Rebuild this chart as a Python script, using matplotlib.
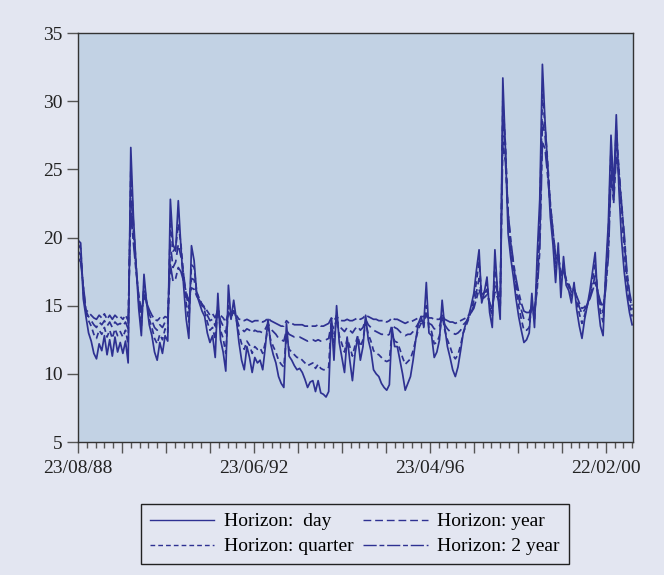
import numpy as np
import matplotlib
matplotlib.use("Agg")
import matplotlib.pyplot as plt
from matplotlib.ticker import MultipleLocator, FixedLocator

# Weekly observations (Tuesdays) starting 23/08/88, sampled every third week
weeks = np.arange(0, 631, 3)

tick_weeks = [0, 200, 400, 600]
tick_labels = ["23/08/88", "23/06/92", "23/04/96", "22/02/00"]

series_names = ["Horizon:  day", "Horizon: quarter", "Horizon: year", "Horizon: 2 year"]

# Volatility forecasts (% p.a.)
vol_day = [
    19.8, 19.6, 15.5, 14.2, 13.0, 12.4, 11.5, 11.1, 12.2, 11.7,
    12.8, 11.4, 12.5, 11.3, 12.7, 11.6, 12.3, 11.5, 12.4, 10.8,
    26.6, 21.5, 18.0, 14.8, 12.8, 17.3, 15.2, 13.6, 12.8, 11.6,
    11.0, 12.3, 11.5, 12.8, 12.4, 22.8, 19.5, 19.0, 22.7, 19.3,
    16.5, 14.0, 12.6, 19.4, 18.3, 15.8, 15.2, 14.6, 14.2, 13.0,
    12.3, 12.8, 11.2, 15.9, 12.5, 11.6, 10.2, 16.5, 14.0, 15.4,
    14.0, 12.3, 11.0, 10.3, 12.0, 11.2, 10.1, 11.2, 10.8, 11.0,
    10.3, 12.0, 14.0, 12.2, 11.4, 10.8, 9.8, 9.3, 9.0, 13.7,
    11.3, 11.0, 10.6, 10.3, 10.4, 10.1, 9.6, 9.0, 9.4, 9.5,
    8.7, 9.5, 8.6, 8.5, 8.3, 8.7, 14.0, 11.0, 15.0, 12.3,
    11.2, 10.1, 12.7, 11.0, 9.5, 11.5, 12.7, 11.0, 12.0, 14.3,
    12.5, 11.7, 10.3, 10.0, 9.8, 9.3, 9.0, 8.8, 9.2, 13.4,
    12.0, 12.0, 11.0, 10.0, 8.8, 9.3, 9.8, 11.0, 12.5, 13.7,
    14.2, 13.5, 16.7, 13.0, 12.8, 11.2, 11.6, 12.5, 15.4, 13.4,
    12.0, 11.2, 10.3, 9.8, 10.5, 11.7, 13.0, 13.7, 14.2, 15.0,
    15.9, 17.6, 19.1, 15.2, 16.0, 17.1, 14.5, 13.4, 19.1, 16.0,
    14.0, 31.7, 26.4, 20.3, 18.5, 17.1, 15.5, 14.2, 13.2, 12.3,
    12.5, 13.0, 15.9, 13.4, 18.6, 22.8, 32.7, 28.5, 25.2, 21.5,
    19.5, 16.7, 19.6, 15.6, 18.6, 16.5, 16.1, 15.2, 16.7, 14.7,
    13.5, 12.6, 14.0, 15.0, 16.1, 17.5, 18.9, 15.2, 13.5, 12.8,
    17.6, 21.1, 27.5, 23.5, 29.0, 23.5, 19.8, 17.5, 15.8, 14.5,
    13.6,
]

vol_quarter = [
    19.5, 19.2, 16.0, 14.6, 13.9, 13.5, 12.9, 12.6, 13.2, 12.9,
    13.4, 12.7, 13.2, 12.6, 13.3, 12.8, 13.1, 12.7, 13.2, 12.2,
    25.0, 21.0, 18.0, 15.3, 13.5, 16.6, 15.3, 14.0, 13.4, 12.6,
    12.2, 12.9, 12.5, 13.3, 13.0, 21.0, 19.0, 19.2, 21.0, 19.5,
    17.3, 15.2, 13.8, 18.0, 17.8, 16.0, 15.5, 15.0, 14.6, 13.8,
    13.2, 13.4, 12.5, 15.0, 13.2, 12.6, 11.5, 15.0, 14.0, 14.8,
    14.0, 12.9, 12.2, 11.8, 12.4, 12.1, 11.5, 12.0, 11.8, 11.9,
    11.5, 12.3, 13.4, 12.5, 12.0, 11.6, 11.0, 10.7, 10.5, 12.8,
    11.8, 11.6, 11.4, 11.2, 11.2, 11.0, 10.8, 10.6, 10.7, 10.8,
    10.4, 10.7, 10.4, 10.3, 10.3, 10.5, 14.0, 12.3, 14.3, 12.8,
    12.2, 11.6, 12.6, 12.0, 11.3, 12.1, 12.8, 12.0, 12.5, 13.8,
    12.9, 12.4, 11.7, 11.5, 11.4, 11.2, 11.0, 10.9, 11.0, 13.0,
    12.4, 12.3, 11.8, 11.2, 10.7, 10.9, 11.1, 11.7, 12.5, 13.3,
    13.7, 13.4, 15.0, 13.3, 13.1, 12.2, 12.3, 12.8, 14.3, 13.2,
    12.5, 12.0, 11.4, 11.1, 11.4, 12.1, 13.0, 13.5, 14.0, 14.6,
    15.4, 16.8, 18.2, 15.8, 16.0, 16.7, 15.0, 14.2, 18.0, 16.2,
    14.8, 30.0, 26.8, 21.5, 19.2, 17.6, 16.2, 15.0, 14.0, 13.2,
    13.2, 13.4, 15.2, 13.9, 17.5, 21.5, 30.5, 28.2, 25.5, 22.5,
    20.2, 17.8, 19.0, 16.6, 18.0, 16.8, 16.4, 15.7, 16.4, 15.3,
    14.4, 13.7, 14.3, 15.0, 15.8, 16.9, 18.0, 15.9, 14.5, 13.8,
    17.0, 20.3, 26.5, 23.5, 28.0, 25.0, 21.8, 19.2, 16.5, 15.2,
    14.2,
]

vol_year = [
    19.0, 18.7, 16.3, 14.6, 14.2, 13.9, 13.6, 13.4, 13.8, 13.6,
    13.9, 13.5, 13.8, 13.4, 13.8, 13.6, 13.7, 13.5, 13.8, 13.3,
    23.5, 20.3, 17.8, 15.6, 14.1, 16.0, 15.2, 14.4, 13.9, 13.4,
    13.2, 13.6, 13.4, 13.8, 13.6, 19.5, 17.8, 18.2, 19.5, 18.6,
    17.3, 15.8, 14.8, 17.0, 16.9, 15.9, 15.5, 15.1, 14.8, 14.3,
    13.9, 14.0, 13.5, 14.8, 13.9, 13.5, 13.0, 14.6, 14.2, 14.6,
    14.1, 13.5, 13.3, 13.1, 13.3, 13.2, 13.0, 13.2, 13.1, 13.1,
    13.0, 13.3, 13.7, 13.3, 13.1, 12.9, 12.6, 12.5, 12.4, 13.2,
    12.9, 12.8, 12.7, 12.7, 12.7, 12.6, 12.5, 12.4, 12.5, 12.5,
    12.4, 12.5, 12.4, 12.4, 12.5, 12.6, 13.7, 13.3, 14.0, 13.5,
    13.3, 13.1, 13.4, 13.2, 13.0, 13.3, 13.5, 13.2, 13.4, 14.0,
    13.6, 13.4, 13.2, 13.1, 13.0, 12.9, 12.9, 12.8, 12.9, 13.6,
    13.4, 13.3, 13.1, 12.9, 12.8, 12.9, 12.9, 13.1, 13.4, 13.7,
    13.9, 13.8, 14.4, 13.7, 13.6, 13.3, 13.3, 13.5, 14.1, 13.6,
    13.3, 13.1, 13.0, 12.9, 13.0, 13.2, 13.6, 13.8, 14.1, 14.5,
    15.0, 16.0, 17.0, 15.7, 15.8, 16.2, 15.2, 14.7, 16.8, 15.9,
    15.0, 28.5, 26.2, 21.8, 19.6, 18.0, 16.7, 15.6, 14.7, 14.0,
    13.9, 14.0, 15.0, 14.3, 16.6, 20.0, 28.5, 27.5, 25.0, 22.5,
    20.5, 18.4, 18.8, 17.2, 17.7, 16.9, 16.5, 16.0, 16.3, 15.6,
    14.9, 14.4, 14.7, 15.1, 15.6, 16.4, 17.2, 16.0, 15.0, 14.5,
    16.5, 19.3, 25.5, 23.0, 27.0, 25.0, 22.5, 20.0, 17.2, 15.7,
    14.7,
]

vol_2year = [
    18.5, 18.2, 16.5, 14.7, 14.5, 14.3, 14.1, 14.0, 14.3, 14.1,
    14.4, 14.0, 14.3, 14.0, 14.3, 14.1, 14.2, 14.0, 14.3, 13.9,
    22.0, 19.6, 17.5, 15.8, 14.6, 15.6, 15.2, 14.7, 14.3, 14.0,
    13.9, 14.1, 14.0, 14.2, 14.1, 18.0, 16.8, 17.0, 17.8, 17.5,
    16.8, 16.0, 15.3, 16.3, 16.2, 15.7, 15.4, 15.1, 14.9, 14.6,
    14.3, 14.4, 14.1, 14.7, 14.3, 14.1, 13.8, 14.5, 14.3, 14.5,
    14.3, 14.0, 14.0, 13.9, 14.0, 13.9, 13.8, 13.9, 13.9, 13.9,
    13.8, 13.9, 14.1, 13.9, 13.8, 13.7, 13.6, 13.5, 13.5, 13.9,
    13.7, 13.7, 13.6, 13.6, 13.6, 13.6, 13.5, 13.5, 13.5, 13.5,
    13.5, 13.6, 13.5, 13.5, 13.6, 13.7, 14.1, 13.9, 14.2, 14.0,
    13.9, 13.9, 14.0, 13.9, 13.9, 14.0, 14.1, 14.0, 14.1, 14.3,
    14.2, 14.1, 14.0, 14.0, 13.9, 13.9, 13.9, 13.8, 13.9, 14.1,
    14.0, 14.0, 13.9, 13.8, 13.7, 13.8, 13.8, 13.9, 14.0, 14.1,
    14.2, 14.2, 14.4, 14.1, 14.1, 14.0, 14.0, 14.0, 14.3, 14.0,
    13.9, 13.8, 13.8, 13.7, 13.8, 13.9, 14.0, 14.1, 14.3, 14.5,
    14.8, 15.5, 16.2, 15.5, 15.6, 15.8, 15.2, 14.9, 16.0, 15.6,
    15.1, 27.0, 25.5, 21.8, 19.8, 18.2, 17.0, 16.0, 15.2, 14.6,
    14.5, 14.5, 15.0, 14.6, 16.1, 19.0, 27.0, 26.5, 24.5, 22.3,
    20.5, 18.7, 18.6, 17.5, 17.5, 16.9, 16.6, 16.1, 16.2, 15.7,
    15.2, 14.8, 14.9, 15.2, 15.5, 16.1, 16.7, 16.0, 15.3, 14.9,
    16.2, 18.6, 24.5, 22.5, 26.0, 24.5, 22.5, 20.3, 17.6, 16.0,
    15.0,
]

line_color = "#2e3192"
fig_bg = "#e3e6f1"
ax_bg = "#c2d2e4"

plt.rcParams["font.family"] = ["Liberation Serif", "DejaVu Serif"]

fig = plt.figure(figsize=(6.64, 5.75), dpi=100, facecolor=fig_bg)
ax = fig.add_axes([0.1175, 0.2313, 0.8358, 0.7113])
ax.set_facecolor(ax_bg)

styles = [
    dict(linestyle="-"),
    dict(linestyle=(0, (3.4, 2.2))),
    dict(linestyle=(0, (5.6, 2.8))),
    dict(linestyle=(0, (9.5, 2.0, 3.5, 2.0))),
]
all_series = [vol_day, vol_quarter, vol_year, vol_2year]

for vals, name, st in zip(all_series, series_names, styles):
    ax.plot(weeks, vals, color=line_color, lw=1.25, label=name, **st)

ax.set_xlim(0, 631)
ax.set_ylim(5, 35)
ax.yaxis.set_major_locator(MultipleLocator(5))
ax.xaxis.set_major_locator(FixedLocator(list(range(0, 631, 50))))
ax.xaxis.set_minor_locator(MultipleLocator(10))
ax.set_xticks(list(range(0, 631, 50)))
ax.set_xticklabels(["" for _ in range(0, 631, 50)])
for w, lab in zip(tick_weeks, tick_labels):
    ax.text(w, -0.045, lab, transform=ax.get_xaxis_transform(),
            ha="center", va="top", fontsize=14, color="#222222")

for sp in ax.spines.values():
    sp.set_color("#333333")
    sp.set_linewidth(1.0)

ax.tick_params(axis="y", direction="out", length=8, width=1, color="#555555",
               labelsize=14, labelcolor="#222222", pad=3)
ax.tick_params(axis="x", which="major", direction="out", length=8, width=1,
               color="#555555")
ax.tick_params(axis="x", which="minor", direction="out", length=4, width=1,
               color="#555555")

leg_handles = []
for st in styles:
    lh, = ax.plot([], [], color=line_color, lw=1.0, **st)
    leg_handles.append(lh)

leg = fig.legend(leg_handles, series_names, loc="center",
                 bbox_to_anchor=(355 / 664, 1 - 534 / 575), ncol=2,
                 fontsize=14, frameon=True, fancybox=False,
                 edgecolor="#222222", facecolor=fig_bg, framealpha=1,
                 handlelength=3.3, handletextpad=0.5, columnspacing=0.5,
                 labelspacing=0.38, borderpad=0.45)
leg.get_frame().set_linewidth(1.0)

fig.savefig("out.png", dpi=100, facecolor=fig_bg)
